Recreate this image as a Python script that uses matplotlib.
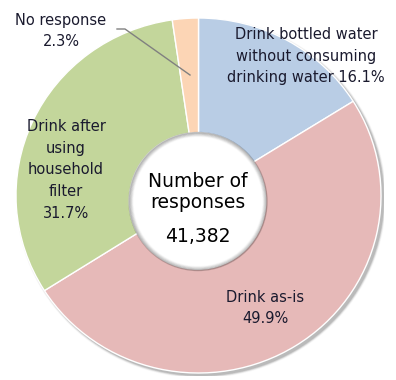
import matplotlib
matplotlib.use("Agg")
import matplotlib.pyplot as plt
from matplotlib.patches import Circle, Ellipse
import numpy as np

categories = ["Drink bottled water\nwithout consuming\ndrinking water",
              "Drink as-is",
              "Drink after\nusing\nhousehold\nfilter",
              "No response"]
shares = [16.1, 49.9, 31.7, 2.3]
colors = ["#B9CDE5", "#E6B9B8", "#C3D69B", "#FCD5B5"]
total_label = "Number of\nresponses"
total_value = "41,382"

W, H = 396, 380
fig = plt.figure(figsize=(W / 100, H / 100), dpi=100)

# pie bounds in pixels (top-left origin)
px0, px1, py0, py1 = 16, 381, 18, 373
# shadow axes (slightly offset)
sax = fig.add_axes([(px0 + 2) / W, 1 - (py1 + 3) / H, (px1 - px0 + 1) / W, (py1 - py0 + 1) / H])
sax.set_xlim(-1, 1); sax.set_ylim(-1, 1); sax.axis("off")
for i, a in enumerate(np.linspace(0.10, 0.02, 5)):
    sax.add_patch(Ellipse((0, 0), 2 + i * 0.006, 2 + i * 0.006, color="black", alpha=a, lw=0))

pax = fig.add_axes([px0 / W, 1 - py1 / H, (px1 - px0) / W, (py1 - py0) / H])
pax.pie(shares, colors=colors, startangle=90, counterclock=False, radius=1,
        wedgeprops=dict(edgecolor="white", linewidth=1.0))
pax.set_aspect("auto")
pax.set_xlim(-1, 1); pax.set_ylim(-1, 1)
pax.axis("off")

ax = fig.add_axes([0, 0, 1, 1])
ax.set_xlim(0, W)
ax.set_ylim(H, 0)
ax.axis("off")

hx, hy, hr = 197.5, 201, 69
ax.add_patch(Circle((hx, hy), hr, color="white", lw=0, zorder=5))
for i, a in enumerate(np.linspace(0.20, 0.02, 6)):
    ax.add_patch(Circle((hx + 0.5, hy + 0.5), hr - i * 0.8, fill=False,
                        edgecolor="black", alpha=a, lw=1.0, zorder=6))

tc = "#1a1a2e"
fs = 10.5
ls = 1.55
ax.text(306, 56, f"{categories[0]} {shares[0]}%", ha="center", va="center",
        fontsize=fs, color=tc, linespacing=ls, zorder=10)
ax.text(265, 308, f"{categories[1]}\n{shares[1]}%", ha="center", va="center",
        fontsize=fs, color=tc, linespacing=ls, zorder=10)
ax.text(66, 170, f"{categories[2]}\n{shares[2]}%", ha="center", va="center",
        fontsize=fs, color=tc, linespacing=ls, zorder=10)
ax.text(61, 31, f"{categories[3]}\n{shares[3]}%", ha="center", va="center",
        fontsize=fs, color=tc, linespacing=ls, zorder=10)

ax.plot([117, 125, 190], [29, 29, 75], color="#808080", lw=1.0, zorder=10)

ax.text(hx, 192, total_label, ha="center", va="center",
        fontsize=13.5, color="black", linespacing=1.15, zorder=10)
ax.text(hx, 237, total_value, ha="center", va="center",
        fontsize=13.5, color="black", zorder=10)

fig.savefig("out.png", dpi=100)
